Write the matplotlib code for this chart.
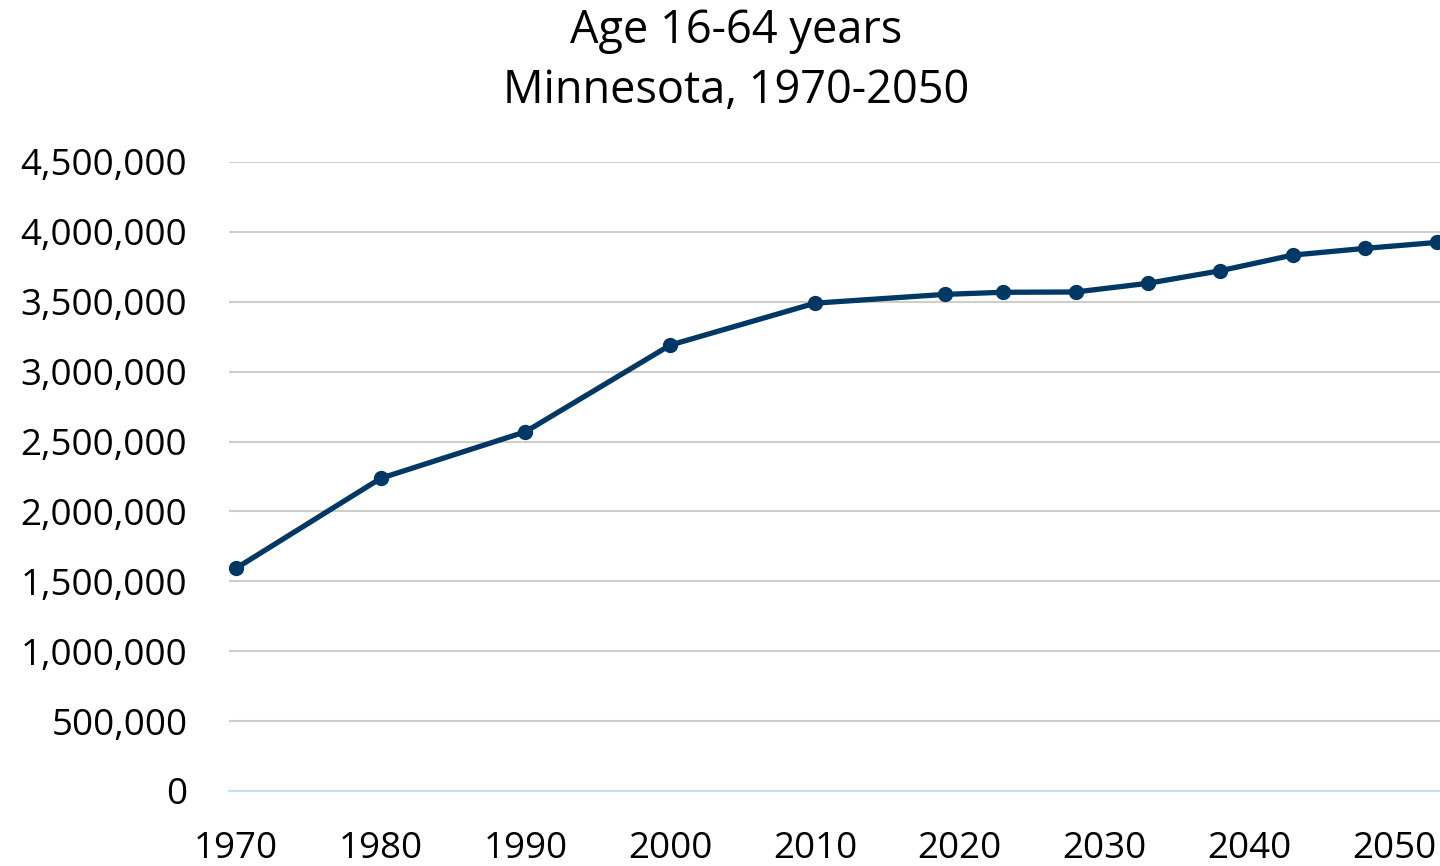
import matplotlib
matplotlib.use('Agg')
import matplotlib.pyplot as plt
import matplotlib.ticker as ticker

years = [1970, 1980, 1990, 2000, 2010, 2019, 2023, 2028, 2033, 2038, 2043, 2048, 2053]
population = [1593000, 2237000, 2570000, 3190000, 3490000, 3553000, 3568000,
              3570000, 3632000, 3722000, 3834000, 3882000, 3925000]
x_ticks = [1970, 1980, 1990, 2000, 2010, 2020, 2030, 2040, 2050]
y_ticks = [0, 500000, 1000000, 1500000, 2000000, 2500000, 3000000, 3500000, 4000000, 4500000]

NAVY = '#003865'
GRID = '#cfcfca'
AXIS = '#c5dff5'

plt.rcParams['font.family'] = ['Open Sans', 'DejaVu Sans']

fig = plt.figure(figsize=(14.4, 8.66), dpi=100)
ax = fig.add_axes([229 / 1440, 75 / 866, 1 - 229 / 1440, 629 / 866])

ax.plot(years, population, color=NAVY, linewidth=3.8, marker='o', markersize=10,
        clip_on=False, zorder=3)

ax.set_xlim(1969.52, 2053.18)
ax.set_ylim(0, 4500000)
ax.set_xticks(x_ticks)
ax.set_yticks(y_ticks)
ax.yaxis.set_major_formatter(ticker.FuncFormatter(lambda v, p: f'{int(v):,}'))
ax.tick_params(axis='both', length=0, labelsize=26.5, colors='black')
ax.tick_params(axis='y', pad=30)
ax.tick_params(axis='x', pad=29)
ax.grid(axis='y', color=GRID, linewidth=1.5)
ax.set_axisbelow(True)
for side in ['top', 'right', 'left']:
    ax.spines[side].set_visible(False)
ax.spines['bottom'].set_color(AXIS)
ax.spines['bottom'].set_linewidth(1.5)

fig.text(0.511, 1 - 31 / 866, 'Age 16-64 years', ha='center', va='center', fontsize=32.5)
fig.text(0.511, 1 - 91 / 866, 'Minnesota, 1970-2050', ha='center', va='center', fontsize=32.5)

plt.savefig('out.png', dpi=100)
